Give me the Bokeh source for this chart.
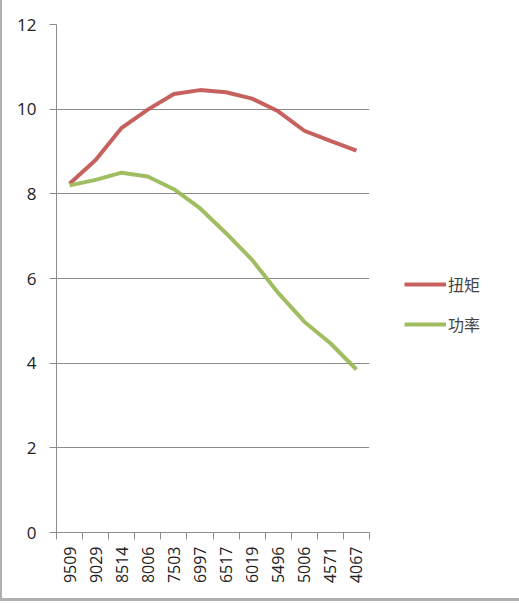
import math
from bokeh.plotting import figure
from bokeh.models import Range1d, FixedTicker, Legend, LegendItem, ColumnDataSource
from bokeh.embed import file_html
from bokeh.resources import INLINE

categories = ["9509", "9029", "8514", "8006", "7503", "6997", "6517", "6019", "5496", "5006", "4571", "4067"]
torque = [8.24, 8.80, 9.56, 9.99, 10.36, 10.45, 10.40, 10.25, 9.95, 9.49, 9.25, 9.02]
power = [8.20, 8.33, 8.50, 8.41, 8.11, 7.66, 7.07, 6.44, 5.66, 4.98, 4.47, 3.85]
y_ticks = [0, 2, 4, 6, 8, 10, 12]
series_names = ["扭矩", "功率"]

xpos = [i + 0.5 for i in range(len(categories))]
src = ColumnDataSource(dict(x=xpos, torque=torque, power=power))

p = figure(
    output_backend="svg", toolbar_location=None,
    frame_width=313, frame_height=508,
    min_border_left=54, min_border_top=24, min_border_bottom=66, min_border_right=146,
    x_range=Range1d(0, len(categories)), y_range=Range1d(0, 12),
    background_fill_color="white", border_fill_color="white",
)
p.outline_line_color = None
p.styles = {"border-left": "2px solid #b0b0b0", "border-right": "2px solid #b0b0b0",
            "border-bottom": "3px solid #b0b0b0"}

r1 = p.line("x", "torque", source=src, line_color="#c0504d", line_width=4, line_alpha=0.9)
r2 = p.line("x", "power", source=src, line_color="#9bbb59", line_width=4, line_alpha=0.95)

# y axis
p.yaxis.ticker = FixedTicker(ticks=y_ticks)
p.yaxis.axis_line_color = "#8c8c8c"
p.yaxis.major_tick_line_color = "#8c8c8c"
p.yaxis.major_tick_out = 7
p.yaxis.major_tick_in = 0
p.yaxis.minor_tick_line_color = None
p.yaxis.major_label_text_font = "Open Sans"
p.yaxis.major_label_text_font_size = "17px"
p.yaxis.major_label_text_color = "#222222"
p.yaxis.major_label_standoff = 13

# x axis
p.xaxis.ticker = FixedTicker(ticks=xpos, minor_ticks=list(range(len(categories) + 1)))
p.xaxis.major_label_overrides = {x: c for x, c in zip(xpos, categories)}
p.xaxis.major_label_orientation = math.pi / 2
p.xaxis.axis_line_color = "#8c8c8c"
p.xaxis.major_tick_line_color = None
p.xaxis.minor_tick_line_color = "#8c8c8c"
p.xaxis.minor_tick_out = 7
p.xaxis.minor_tick_in = 0
p.xaxis.major_label_text_font = "Open Sans"
p.xaxis.major_label_text_font_size = "16px"
p.xaxis.major_label_text_color = "#222222"
p.xaxis.major_label_standoff = 7

p.xgrid.grid_line_color = None
p.ygrid.ticker = FixedTicker(ticks=y_ticks)
p.ygrid.grid_line_color = "#8c8c8c"
p.ygrid.grid_line_width = 1

legend = Legend(items=[LegendItem(label=series_names[0], renderers=[r1]),
                       LegendItem(label=series_names[1], renderers=[r2])],
                location=(35, 196), orientation="vertical")
legend.border_line_color = None
legend.background_fill_alpha = 0
legend.label_text_font = "Noto Sans CJK SC"
legend.label_text_font_size = "16px"
legend.label_text_color = "#444444"
legend.glyph_width = 42
legend.glyph_height = 20
legend.spacing = 16
legend.label_standoff = 2
legend.padding = 5
legend.margin = 0
p.add_layout(legend, "right")

open("out.html", "w").write(file_html(p, INLINE))
